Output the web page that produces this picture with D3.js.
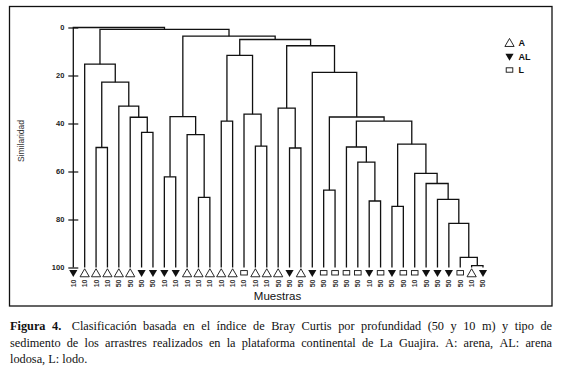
<!DOCTYPE html>
<html><head><meta charset="utf-8">
<script src="https://cdn.jsdelivr.net/npm/d3@7"></script>
<style>body{margin:0;background:#fff}svg{display:block}</style>
</head><body>
<svg id="c" width="563" height="366"></svg>
<script>
// ---- data ----
const leafTypes = ["AL","A","A","A","A","A","AL","AL","AL","AL","A","A","A","A","A","L","A","A","A","AL","A","AL","L","L","L","L","AL","L","AL","L","L","AL","AL","AL","L","A","AL"];
const leafDepths = ["10","10","10","10","50","50","50","50","10","10","10","10","10","10","10","10","10","10","50","50","50","50","50","50","50","50","10","50","50","50","10","50","50","50","50","10","50"];
// merge matrix (negative = leaf number, positive = earlier merge number)
const merges = [[-7,-8],[-6,1],[-5,2],[-3,-4],[4,3],[-2,5],[-9,-10],[-12,-13],[-11,8],[7,9],
  [-14,-15],[-17,-18],[-16,12],[11,13],[-20,-21],[-19,15],[-23,-24],[-27,-28],[-26,18],[-25,19],
  [-29,-30],[-36,-37],[-35,22],[-34,23],[-33,24],[-32,25],[-31,26],[21,27],[20,28],[17,29],
  [-22,30],[16,31],[14,32],[10,33],[6,34],[-1,35]];
const mergeHeights = [43.7,37.4,32.8,50,22.8,15.3,62.2,70.8,44.6,37.1,
  39,49.4,36.1,11.6,50.2,33.6,67.8,72.3,56.1,49.8,
  74.5,99.2,95.8,81.6,71.6,65,60.8,48.6,39,37.3,
  18.7,7.6,5,3.6,0.8,0];
const yTicks = [0,20,40,60,80,100];
const legendTypes = ["A","AL","L"];
const captionLines = [
  [["Figura",true],["4.",true,4],["Clasificación"],["basada"],["en"],["el"],["índice"],["de"],["Bray"],["Curtis"],["por"],["profundidad"],["(50"],["y"],["10"],["m)"],["y"],["tipo"],["de"]],
  [["sedimento"],["de"],["los"],["arrastres"],["realizados"],["en"],["la"],["plataforma"],["continental"],["de"],["La"],["Guajira."],["A:"],["arena,"],["AL:"],["arena"]],
  [["lodosa,"],["L:"],["lodo."]]
];

// ---- drawing ----
const svg = d3.select("#c");
svg.append("rect").attr("width",563).attr("height",366).attr("fill","#fff");
svg.append("rect").attr("x",9.5).attr("y",6.5).attr("width",542.5).attr("height",299.5)
  .attr("fill","none").attr("stroke","#111").attr("stroke-width",1.3);

const nLeaves = leafTypes.length;
const x = d3.scalePoint().domain(d3.range(nLeaves)).range([73.3, 483]);
const y = d3.scaleLinear().domain([0,100]).range([27.5, 267.5]);

function build(i){
  if (i < 0) return {leaf: -i-1};
  const m = merges[i-1];
  return {h: mergeHeights[i-1], children: [build(m[0]), build(m[1])]};
}
const root = d3.hierarchy(build(merges.length));
root.eachAfter(n => {
  if (n.children) { n.px = d3.mean(n.children, c => c.px); n.py = y(n.data.h); }
  else { n.px = x(n.data.leaf); n.py = y(100); }
});

// y axis
const axis = svg.append("g").attr("transform","translate(73.3,0)")
  .call(d3.axisLeft(y).tickValues(yTicks).tickSize(5).tickPadding(4));
axis.select(".domain").remove();
axis.selectAll(".tick line").attr("x1",5).attr("x2",-5).attr("stroke","#111").attr("stroke-width",1.2);
axis.selectAll(".tick text").attr("font-family","Liberation Sans, Arial, sans-serif")
  .attr("font-size",7.5).attr("font-weight","bold").attr("fill","#222");

// links
const links = svg.append("g").attr("fill","none").attr("stroke","#111").attr("stroke-width",1.3);
root.descendants().filter(n => n.children).forEach(n => {
  const [a,b] = n.children;
  links.append("path").attr("d", `M${a.px},${a.py}V${n.py}H${b.px}V${b.py}`);
});

// leaf symbols
const leafG = svg.append("g");
const triUp = d3.symbol().type(d3.symbolTriangle).size(37);
const triDown = d3.symbol().type(d3.symbolTriangle).size(29);
function drawSymbol(g, t, cx, cy){
  if (t === "A") g.append("path").attr("d", triUp()).attr("transform",`translate(${cx},${cy+1.3})`)
      .attr("fill","#fff").attr("stroke","#111").attr("stroke-width",0.9);
  else if (t === "AL") g.append("path").attr("d", triDown()).attr("transform",`translate(${cx},${cy-0.5}) rotate(180)`)
      .attr("fill","#111");
  else g.append("rect").attr("x",cx-3.3).attr("y",cy-2.2).attr("width",6.6).attr("height",4.4)
      .attr("fill","#fff").attr("stroke","#111").attr("stroke-width",0.9);
}
leafTypes.forEach((t,i) => drawSymbol(leafG, t, x(i), 272.8));

// leaf labels
svg.append("g").selectAll("text").data(leafDepths).join("text")
  .attr("transform",(d,i)=>`translate(${x(i)},279.5) rotate(-90)`)
  .attr("text-anchor","end").attr("dy","0.35em")
  .attr("font-family","Liberation Sans, Arial, sans-serif").attr("font-size",7)
  .attr("font-weight","bold").attr("fill","#333").text(d=>d);

// axis titles
svg.append("text").attr("x",277.5).attr("y",300).attr("text-anchor","middle")
  .attr("font-family","Liberation Sans, Arial, sans-serif").attr("font-size",11.5).attr("fill","#111").text("Muestras");
svg.append("text").attr("transform","translate(24,141) rotate(-90)").attr("text-anchor","middle")
  .attr("font-family","Liberation Sans, Arial, sans-serif").attr("font-size",8.5).attr("fill","#333").text("Similaridad");

// legend
const legY = [42.5, 56.5, 70];
legendTypes.forEach((t,i) => {
  drawSymbol(svg, t, 509.5, legY[i]);
  svg.append("text").attr("x",518.5).attr("y",legY[i]+3.3)
    .attr("font-family","Liberation Sans, Arial, sans-serif").attr("font-size",9)
    .attr("font-weight","bold").attr("fill","#111").text(t);
});

// caption (justified)
const capX0 = 10, capX1 = 552, capBase = [330, 346.5, 363];
captionLines.forEach((words, li) => {
  const g = svg.append("g");
  const els = words.map(w => g.append("text").attr("y",capBase[li])
    .attr("font-family","Liberation Serif, Times New Roman, serif").attr("font-size",12.3)
    .attr("font-weight", w[1] ? "bold" : "normal").attr("fill","#111").text(w[0]));
  const widths = els.map((e,i) => e.node().getComputedTextLength() + (words[i][2]||0));
  let gap = 3.1;
  if (li < captionLines.length-1) gap = (capX1 - capX0 - d3.sum(widths)) / (words.length-1);
  let cx = capX0;
  els.forEach((e,i) => { e.attr("x",cx); cx += widths[i] + gap; });
});
</script>
</body></html>
